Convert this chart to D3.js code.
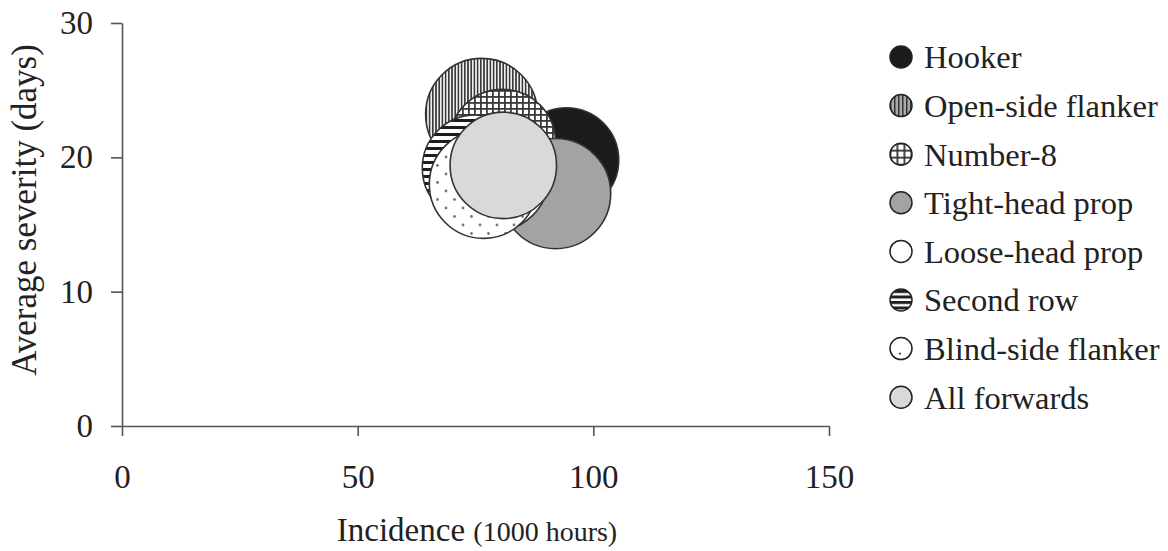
<!DOCTYPE html>
<html>
<head>
<meta charset="utf-8">
<script src="https://cdn.jsdelivr.net/npm/d3@7"></script>
<style>
  html, body { margin: 0; padding: 0; background: #fff; }
  svg { display: block; }
  text { font-family: "Liberation Serif", "Times New Roman", serif; fill: #222; }
</style>
</head>
<body>
<svg id="chart" width="1168" height="551"></svg>
<script>
// ---- data ----
const positions = ["Hooker", "Open-side flanker", "Number-8", "Tight-head prop",
                   "Loose-head prop", "Second row", "Blind-side flanker", "All forwards"];
const incidence = [94.3, 76.3, 80.7, 92.0, 79.2, 75.0, 76.7, 80.9];   // per 1000 hours
const severity  = [19.8, 23.2, 21.1, 17.3, 18.5, 19.2, 18.0, 19.4];   // days
const bubbleSize = [2.7, 3.1, 2.8, 3.0, 2.8, 2.8, 2.9, 2.8];          // bubble value
const xTicks = [0, 50, 100, 150];
const yTicks = [0, 10, 20, 30];

// ---- styles per series ----
const fills = ["#1b1b1b", "url(#pVert)", "url(#pGrid)", "#a3a3a3",
               "#ffffff", "url(#pHoriz)", "url(#pDots)", "#d9d9d9"];

const svg = d3.select("#chart");
const defs = svg.append("defs");

// vertical stripes
const pv = defs.append("pattern").attr("id", "pVert").attr("patternUnits", "userSpaceOnUse")
  .attr("width", 3.2).attr("height", 10);
pv.append("rect").attr("width", 3.2).attr("height", 10).attr("fill", "#eee");
pv.append("rect").attr("width", 1.6).attr("height", 10).attr("fill", "#3a3a3a");

// grid
const pg = defs.append("pattern").attr("id", "pGrid").attr("patternUnits", "userSpaceOnUse")
  .attr("width", 6).attr("height", 6);
pg.append("rect").attr("width", 6).attr("height", 6).attr("fill", "#fff");
pg.append("rect").attr("width", 6).attr("height", 1.8).attr("fill", "#3a3a3a");
pg.append("rect").attr("width", 1.8).attr("height", 6).attr("fill", "#3a3a3a");

// horizontal stripes
const ph = defs.append("pattern").attr("id", "pHoriz").attr("patternUnits", "userSpaceOnUse")
  .attr("width", 10).attr("height", 7);
ph.append("rect").attr("width", 10).attr("height", 7).attr("fill", "#fff");
ph.append("rect").attr("width", 10).attr("height", 3).attr("fill", "#1e1e1e");

// dots
const pd = defs.append("pattern").attr("id", "pDots").attr("patternUnits", "userSpaceOnUse")
  .attr("width", 17).attr("height", 17);
pd.append("rect").attr("width", 17).attr("height", 17).attr("fill", "#fff");
pd.append("circle").attr("cx", 4).attr("cy", 4).attr("r", 1.4).attr("fill", "#777");
pd.append("circle").attr("cx", 12.5).attr("cy", 12.5).attr("r", 1.4).attr("fill", "#777");

// small legend variants
const pv2 = defs.append("pattern").attr("id", "lVert").attr("patternUnits", "userSpaceOnUse")
  .attr("width", 4).attr("height", 10).attr("x", 1);
pv2.append("rect").attr("width", 4).attr("height", 10).attr("fill", "#aaa");
pv2.append("rect").attr("width", 1.5).attr("height", 10).attr("fill", "#333");
const pg2 = defs.append("pattern").attr("id", "lGrid").attr("patternUnits", "userSpaceOnUse")
  .attr("width", 7).attr("height", 7).attr("x", 2.5).attr("y", 2.5);
pg2.append("rect").attr("width", 7).attr("height", 7).attr("fill", "#fff");
pg2.append("rect").attr("width", 7).attr("height", 1.8).attr("fill", "#333");
pg2.append("rect").attr("width", 1.8).attr("height", 7).attr("fill", "#333");
const ph2 = defs.append("pattern").attr("id", "lHoriz").attr("patternUnits", "userSpaceOnUse")
  .attr("width", 10).attr("height", 5.5).attr("y", 1);
ph2.append("rect").attr("width", 10).attr("height", 5.5).attr("fill", "#fff");
ph2.append("rect").attr("width", 10).attr("height", 3).attr("fill", "#1e1e1e");
const legendFills = ["#1b1b1b", "url(#lVert)", "url(#lGrid)", "#a3a3a3",
                     "#ffffff", "url(#lHoriz)", "#ffffff", "#d9d9d9"];

// ---- scales ----
const x = d3.scaleLinear().domain([0, 150]).range([122, 829]);
const y = d3.scaleLinear().domain([0, 30]).range([426, 23]);
const r = d3.scaleSqrt().domain([0, d3.max(bubbleSize)]).range([0, 56]);

// ---- axes ----
const axisColor = "#555";
const gx = svg.append("g").attr("transform", `translate(0,${y(0)})`)
  .call(d3.axisBottom(x).tickValues(xTicks).tickSize(10).tickSizeOuter(0).tickPadding(29));
const gy = svg.append("g").attr("transform", `translate(${x(0)},0)`)
  .call(d3.axisLeft(y).tickValues(yTicks).tickSize(11).tickSizeOuter(0).tickPadding(18));
[gx, gy].forEach(g => {
  g.select(".domain").attr("stroke", axisColor).attr("stroke-width", 1.6);
  g.selectAll(".tick line").attr("stroke", axisColor).attr("stroke-width", 1.6);
  g.selectAll(".tick text").style("font-family", '"Liberation Serif", serif')
    .style("font-size", "33px").attr("fill", "#222");
});

// axis titles
const xt = svg.append("text").attr("x", 477).attr("y", 541).attr("text-anchor", "middle")
  .style("font-size", "33px");
xt.append("tspan").text("Incidence ");
xt.append("tspan").style("font-size", "28px").text("(1000 hours)");

svg.append("text").attr("transform", "translate(36,210) rotate(-90)")
  .attr("text-anchor", "middle").style("font-size", "35px").text("Average severity (days)");

// ---- bubbles ----
svg.append("g").selectAll("circle").data(positions).join("circle")
  .attr("cx", (d, i) => x(incidence[i]))
  .attr("cy", (d, i) => y(severity[i]))
  .attr("r", (d, i) => r(bubbleSize[i]))
  .attr("fill", (d, i) => fills[i])
  .attr("stroke", "#333")
  .attr("stroke-width", 1.6);

// ---- legend ----
const lg = svg.append("g").attr("transform", "translate(901,57)");
const rows = lg.selectAll("g").data(positions).join("g")
  .attr("transform", (d, i) => `translate(0,${i * 48.6})`);
rows.append("circle").attr("r", 11).attr("fill", (d, i) => legendFills[i])
  .attr("stroke", "#222").attr("stroke-width", 1.5);
rows.filter((d, i) => i === 6).append("circle").attr("cx", -1).attr("cy", 5)
  .attr("r", 1.2).attr("fill", "#555");
rows.append("text").attr("x", 23).attr("dy", "0.35em").style("font-size", "32.5px").text(d => d);
</script>
</body>
</html>
